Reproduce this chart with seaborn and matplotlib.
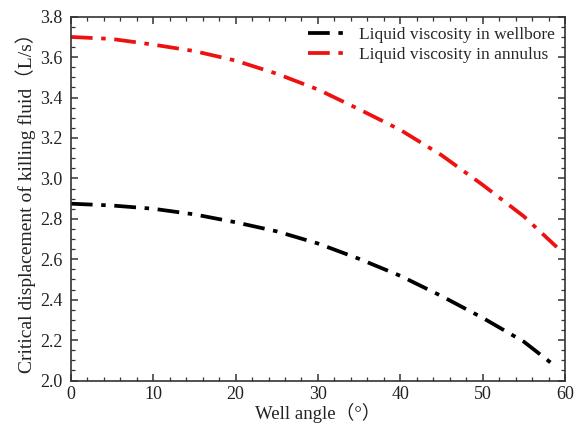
import numpy as np
import pandas as pd
import matplotlib
matplotlib.use("Agg")
import matplotlib.pyplot as plt
import seaborn as sns
from matplotlib.ticker import MultipleLocator

# data
angles = [0, 5, 10, 15, 20, 25, 30, 35, 40, 45, 50, 55, 59]
wellbore = [2.875, 2.866, 2.850, 2.822, 2.783, 2.738, 2.678, 2.602, 2.518, 2.418, 2.310, 2.192, 2.065]
annulus = [3.700, 3.690, 3.662, 3.630, 3.583, 3.518, 3.440, 3.342, 3.240, 3.115, 2.968, 2.812, 2.660]
series_names = ["Liquid viscosity in wellbore", "Liquid viscosity in annulus"]

df = pd.DataFrame({
    "angle": angles * 2,
    "value": wellbore + annulus,
    "series": [series_names[0]] * len(angles) + [series_names[1]] * len(angles),
})

sns.set_style("ticks")
plt.rcParams["font.family"] = ["Liberation Serif", "Noto Sans CJK SC"]
plt.rcParams["font.size"] = 12

fig = plt.figure(figsize=(5.76, 4.29), dpi=100)
ax = fig.add_axes([0.123, 0.113, 0.858, 0.848])

dash = (5.8, 2.3, 1.2, 2.3)
sns.lineplot(data=df, x="angle", y="value", hue="series", style="series",
             palette={series_names[0]: "black", series_names[1]: "#ee1111"},
             dashes={series_names[0]: dash, series_names[1]: dash},
             linewidth=2.7, ax=ax)

ax.set_xlim(0, 60)
ax.set_ylim(2.0, 3.8)
ax.xaxis.set_major_locator(MultipleLocator(10))
ax.xaxis.set_minor_locator(MultipleLocator(2))
ax.yaxis.set_major_locator(MultipleLocator(0.2))
ax.yaxis.set_minor_locator(MultipleLocator(0.05))
ax.yaxis.set_major_formatter(matplotlib.ticker.FormatStrFormatter("%.1f"))

ax.tick_params(which="both", direction="in", top=True, right=True,
               colors="#333333", labelcolor="#222222", labelsize=13)
ax.tick_params(which="major", length=5, width=1.1)
ax.tick_params(axis="y", which="major", pad=6)
ax.tick_params(axis="x", which="major", pad=4)
ax.tick_params(which="minor", length=3, width=0.9)
for s in ax.spines.values():
    s.set_color("#333333")
    s.set_linewidth(1.2)

ax.set_xlabel("Well angle（°）", fontsize=13.5, color="#222222", labelpad=0)
ax.set_ylabel("Critical displacement of killing fluid（L/s）", fontsize=14,
              color="#222222", labelpad=3)

handles, labels = ax.get_legend_handles_labels()
ax.legend(handles, labels, loc="upper right", frameon=False, fontsize=12.5,
          handlelength=2.4, handletextpad=0.5, labelspacing=0.2,
          borderaxespad=0.2, bbox_to_anchor=(1.0, 1.0))

fig.savefig("out.png", dpi=100)
